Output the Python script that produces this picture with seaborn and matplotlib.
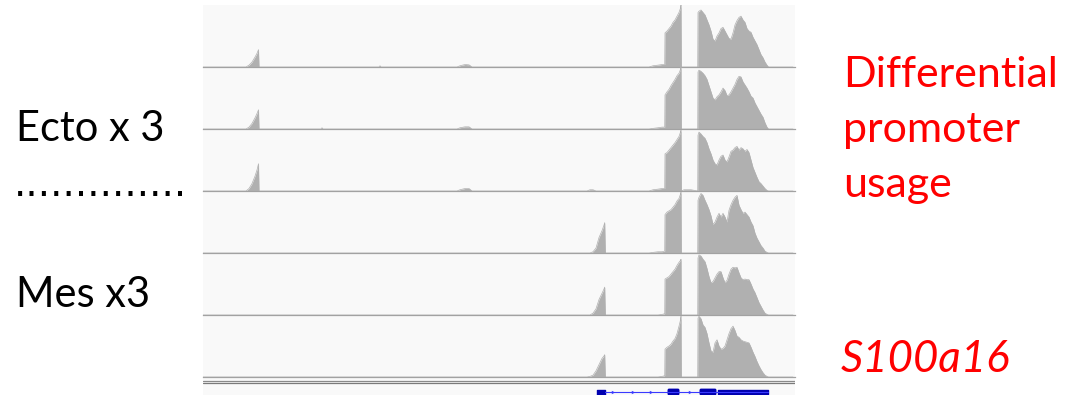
import matplotlib
matplotlib.use("Agg")
import matplotlib.pyplot as plt
from matplotlib.patches import FancyBboxPatch
import pandas as pd
import seaborn as sns

W, H = 1073, 395

# genomic position along the locus (window units, 0 = left edge of the view)
pos = [0, 43, 46, 49, 52, 54, 55.5, 56,
       118, 119, 120, 176, 177, 178, 254, 257, 262, 266, 269,
       384, 387, 390, 393, 396, 399, 401, 401.7, 402.3,
       446, 450, 455, 459, 461.7, 462, 464, 466, 468, 470, 472, 474, 476, 477.5, 478, 478.3,
       481, 488, 494.7,
       495, 496, 498, 500, 502, 504, 506, 508, 510, 512, 514, 516, 518, 520, 522, 524,
       526, 528, 530, 532, 534, 536, 538, 540, 542, 544, 546, 548, 550, 552, 554, 556,
       558, 560, 562, 564, 565.5, 590]

# normalised read coverage per replicate
ecto_1 = [0, 0, 0.03, 0.08, 0.16, 0.22, 0.28, 0,
          0, 0, 0, 0, 0.02, 0, 0, 0.02, 0.04, 0.035, 0,
          0, 0, 0, 0, 0, 0, 0, 0, 0,
          0, 0.02, 0.03, 0.04, 0.04, 0.55, 0.58, 0.62, 0.66, 0.72, 0.76, 0.82, 0.88, 0.95, 1.0, 0,
          0, 0, 0,
          0.88, 0.9, 0.92, 0.88, 0.84, 0.76, 0.68, 0.58, 0.45, 0.42, 0.5, 0.55, 0.62, 0.64, 0.58, 0.52,
          0.46, 0.45, 0.55, 0.68, 0.75, 0.8, 0.82, 0.76, 0.72, 0.62, 0.58, 0.56, 0.48, 0.42, 0.36, 0.28,
          0.2, 0.15, 0.08, 0.03, 0, 0]
ecto_2 = [0, 0, 0.03, 0.09, 0.18, 0.25, 0.31, 0,
          0, 0.02, 0, 0, 0, 0, 0, 0.02, 0.035, 0.035, 0,
          0, 0, 0, 0, 0, 0, 0, 0, 0,
          0, 0.01, 0.02, 0.03, 0.03, 0.55, 0.6, 0.64, 0.7, 0.75, 0.8, 0.86, 0.9, 0.96, 1.0, 0,
          0, 0, 0,
          0.92, 0.95, 0.93, 0.9, 0.86, 0.8, 0.7, 0.6, 0.5, 0.47, 0.52, 0.55, 0.6, 0.66, 0.62, 0.54,
          0.55, 0.6, 0.66, 0.72, 0.8, 0.85, 0.84, 0.76, 0.71, 0.66, 0.6, 0.53, 0.5, 0.42, 0.36, 0.3,
          0.24, 0.19, 0.1, 0.03, 0, 0]
ecto_3 = [0, 0, 0.04, 0.12, 0.24, 0.34, 0.44, 0,
          0, 0, 0, 0, 0, 0, 0, 0.02, 0.04, 0.04, 0,
          0, 0.02, 0.02, 0, 0, 0, 0, 0, 0,
          0, 0.02, 0.03, 0.04, 0.04, 0.6, 0.62, 0.66, 0.7, 0.74, 0.78, 0.83, 0.88, 0.95, 0.98, 0,
          0.02, 0.02, 0,
          0.9, 0.95, 0.92, 0.88, 0.85, 0.78, 0.68, 0.6, 0.5, 0.44, 0.42, 0.5, 0.56, 0.58, 0.5, 0.47,
          0.55, 0.64, 0.66, 0.7, 0.72, 0.66, 0.7, 0.68, 0.64, 0.67, 0.62, 0.5, 0.38, 0.3, 0.22, 0.15,
          0.12, 0.08, 0.04, 0.01, 0, 0]
mes_1 = [0, 0, 0, 0, 0, 0, 0, 0,
         0, 0, 0, 0, 0, 0, 0, 0, 0, 0, 0,
         0, 0, 0.02, 0.08, 0.25, 0.36, 0.45, 0.49, 0,
         0, 0.01, 0.02, 0.02, 0.03, 0.62, 0.66, 0.68, 0.7, 0.74, 0.78, 0.84, 0.88, 0.95, 0.98, 0,
         0, 0, 0,
         0.85, 0.9, 0.96, 0.93, 0.85, 0.78, 0.7, 0.6, 0.46, 0.5, 0.58, 0.64, 0.58, 0.64, 0.58, 0.5,
         0.69, 0.78, 0.85, 0.9, 0.93, 0.77, 0.7, 0.64, 0.66, 0.62, 0.58, 0.5, 0.44, 0.32, 0.24, 0.18,
         0.12, 0.08, 0.03, 0.01, 0, 0]
mes_2 = [0, 0, 0, 0, 0, 0, 0, 0,
         0, 0, 0, 0, 0, 0, 0, 0, 0, 0, 0,
         0, 0, 0.03, 0.1, 0.25, 0.35, 0.42, 0.45, 0,
         0, 0, 0, 0.01, 0.02, 0.58, 0.6, 0.62, 0.66, 0.7, 0.74, 0.8, 0.85, 0.88, 0.9, 0,
         0, 0, 0,
         0.92, 0.97, 0.95, 0.9, 0.86, 0.75, 0.62, 0.52, 0.54, 0.6, 0.66, 0.7, 0.7, 0.6, 0.52, 0.56,
         0.66, 0.74, 0.77, 0.76, 0.77, 0.68, 0.6, 0.57, 0.58, 0.57, 0.57, 0.5, 0.42, 0.36, 0.28, 0.2,
         0.14, 0.08, 0.03, 0.01, 0, 0]
mes_3 = [0, 0, 0, 0, 0, 0, 0, 0,
         0, 0, 0, 0, 0, 0, 0, 0, 0, 0, 0,
         0, 0.01, 0.03, 0.1, 0.2, 0.3, 0.34, 0.36, 0,
         0, 0, 0, 0.01, 0.02, 0.45, 0.48, 0.5, 0.53, 0.58, 0.62, 0.7, 0.82, 0.92, 0.98, 0,
         0, 0, 0,
         0.95, 0.98, 0.94, 0.84, 0.8, 0.7, 0.55, 0.42, 0.4, 0.55, 0.6, 0.5, 0.45, 0.46, 0.5, 0.6,
         0.7, 0.78, 0.82, 0.75, 0.66, 0.64, 0.6, 0.58, 0.57, 0.56, 0.55, 0.48, 0.4, 0.33, 0.25, 0.18,
         0.12, 0.07, 0.03, 0.01, 0, 0]

track_names = ["ecto_1", "ecto_2", "ecto_3", "mes_1", "mes_2", "mes_3"]
tracks = [ecto_1, ecto_2, ecto_3, mes_1, mes_2, mes_3]

# S100a16 gene model (same position units)
utr5_start, utr5_end = 394, 402
exon_starts = [463, 495]
exon_ends = [478, 515]
utr3_start, utr3_end = 515, 565
strand_marks = [410, 430, 448, 487]

left_labels = ["Ecto x 3", "Mes x3"]
right_labels = ["Differential", "promoter", "usage"]
gene_label = "S100a16"

sns.set_style("white")
plt.rcParams["font.family"] = ["Lato", "DejaVu Sans"]

fill_col = "#b0b0b0"
base_col = "#a2a2a2"
bg_col = "#f9f9f9"
gene_col = "#0000b0"

fig = plt.figure(figsize=(W / 100, H / 100), dpi=100)
fig.patch.set_facecolor("white")

x0, x1 = 203, 795
xlim = (0, 592)


def rect(top, bottom):
    return [x0 / W, 1 - bottom / H, (x1 - x0) / W, (bottom - top) / H]


# panel background
bg = fig.add_axes(rect(5, 395))
bg.set_facecolor(bg_col)
for s in bg.spines.values():
    s.set_visible(False)
bg.set_xticks([])
bg.set_yticks([])

df = pd.DataFrame({name: vals for name, vals in zip(track_names, tracks)})
df["pos"] = pos

for i, name in enumerate(track_names):
    top = 5 + 62 * i
    ax = fig.add_axes(rect(top, top + 62))
    ax.set_facecolor("none")
    ax.fill_between(df["pos"], df[name], 0, color=fill_col, linewidth=0)
    sns.lineplot(data=df, x="pos", y=name, ax=ax, color=fill_col,
                 linewidth=0.5, estimator=None, sort=False)
    ax.set_xlim(*xlim)
    ax.set_ylim(0, 1.0)
    ax.set_xticks([])
    ax.set_yticks([])
    ax.set_xlabel("")
    ax.set_ylabel("")
    for side in ("top", "left", "right"):
        ax.spines[side].set_visible(False)
    ax.spines["bottom"].set_color(base_col)
    ax.spines["bottom"].set_linewidth(0.9)

# gene track: y in pixel-like units, 0 = gene centre line
gax = fig.add_axes(rect(378, 395))
gax.set_facecolor("none")
gax.set_xlim(*xlim)
gax.set_ylim(-3, 14)
gax.axis("off")
gax.axhline(10.6, color="#8a8a8a", linewidth=0.9)
gax.axhline(8.6, color="#7a7a7a", linewidth=0.9)
gax.plot([utr5_end, utr3_end], [0, 0], color="#3a3aff", linewidth=0.8)
gax.broken_barh([(utr5_start, utr5_end - utr5_start)], (-2.5, 5), color=gene_col)
for s, e in zip(exon_starts, exon_ends):
    gax.add_patch(FancyBboxPatch((s + 1.5, -3.4), e - s - 3, 6.8,
                                 boxstyle="round,pad=0,rounding_size=1.5",
                                 color=gene_col, linewidth=0, mutation_aspect=1.2))
gax.broken_barh([(utr3_start, utr3_end - utr3_start)], (-2.3, 4.6), color=gene_col)
gax.scatter(strand_marks, [0] * len(strand_marks), marker=">", s=6, color="#3a3aff",
            linewidths=0)

# labels
def ftxt(x, y, s, **kw):
    fig.text(x / W, 1 - y / H, s, va="baseline", ha="left", **kw)


ftxt(16, 141, left_labels[0], fontsize=30, color="black")
ftxt(14, 196, "." * 14, fontsize=28, color="black", family=["DejaVu Sans"])
ftxt(16, 307, left_labels[1], fontsize=30, color="black")

for k, line in enumerate(right_labels):
    ftxt(843, 87 + 55 * k, line, fontsize=31, color="#ff0000")
ftxt(841, 372, gene_label, fontsize=31.5, color="#ff0000", style="italic")

fig.savefig("out.png", dpi=100, facecolor="white")
